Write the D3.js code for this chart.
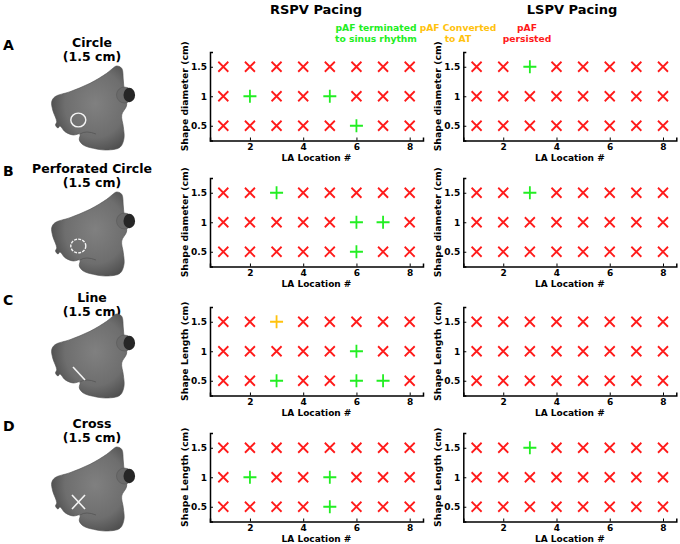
<!DOCTYPE html>
<html>
<head>
<meta charset="utf-8">
<script src="https://cdn.jsdelivr.net/npm/d3@7"></script>
<style>
  body { margin: 0; background: #fff; }
  text { font-family: "DejaVu Sans", sans-serif; font-weight: bold; }
</style>
</head>
<body>
<svg id="fig" width="680" height="544"></svg>
<script>
// ---- data ----
const shapes = ['Circle', 'Perforated Circle', 'Line', 'Cross'];
const panelLetters = ['A', 'B', 'C', 'D'];
const yLabels = ['Shape diameter (cm)', 'Shape diameter (cm)', 'Shape Length (cm)', 'Shape Length (cm)'];
const pacingSites = ['RSPV', 'LSPV'];
const locations = [1, 2, 3, 4, 5, 6, 7, 8];
const shapeSizes = [0.5, 1, 1.5];
const xTicks = [2, 4, 6, 8];
const yTicks = [0.5, 1, 1.5];

// [shape, pacing, location, size] — every other cell: pAF persisted
const terminated = [
  ['Circle', 'RSPV', 2, 1], ['Circle', 'RSPV', 5, 1], ['Circle', 'RSPV', 6, 0.5],
  ['Circle', 'LSPV', 3, 1.5],
  ['Perforated Circle', 'RSPV', 3, 1.5], ['Perforated Circle', 'RSPV', 6, 1],
  ['Perforated Circle', 'RSPV', 7, 1], ['Perforated Circle', 'RSPV', 6, 0.5],
  ['Perforated Circle', 'LSPV', 3, 1.5],
  ['Line', 'RSPV', 6, 1], ['Line', 'RSPV', 3, 0.5], ['Line', 'RSPV', 6, 0.5], ['Line', 'RSPV', 7, 0.5],
  ['Cross', 'RSPV', 2, 1], ['Cross', 'RSPV', 5, 1], ['Cross', 'RSPV', 5, 0.5],
  ['Cross', 'LSPV', 3, 1.5]
];
const convertedToAT = [['Line', 'RSPV', 3, 1.5]];

const RED = '#ff1a1a', GREEN = '#22ee22', ORANGE = '#ffc20e';

// ---- layout ----
const svg = d3.select('#fig');
const rowTops = [52, 178, 307, 433];
const axH = 88.5;
const panelLefts = [210, 463.3];
const axW = 213;

const x = d3.scaleLinear().domain([0.5, 8.5]).range([0, axW]);
const y = d3.scaleLinear().domain([0.25, 1.75]).range([axH, 0]);

function outcome(shape, site, loc, size) {
  const hit = a => a.some(d => d[0] === shape && d[1] === site && d[2] === loc && d[3] === size);
  if (hit(convertedToAT)) return 'at';
  if (hit(terminated)) return 'term';
  return 'pers';
}

// ---- column titles + legend ----
svg.append('text').attr('x', 316).attr('y', 14).attr('text-anchor', 'middle')
  .attr('font-size', 13).text('RSPV Pacing');
svg.append('text').attr('x', 572).attr('y', 14).attr('text-anchor', 'middle')
  .attr('font-size', 13).text('LSPV Pacing');

const legend = [
  { lines: ['pAF terminated', 'to sinus rhythm'], color: GREEN, x: 376 },
  { lines: ['pAF Converted', 'to AT'], color: ORANGE, x: 458 },
  { lines: ['pAF', 'persisted'], color: RED, x: 527 }
];
legend.forEach(l => {
  l.lines.forEach((s, i) => {
    svg.append('text').attr('x', l.x).attr('y', 30.5 + i * 11.5)
      .attr('text-anchor', 'middle').attr('font-size', 9.2)
      .attr('fill', l.color).text(s);
  });
});

// ---- atrium sketch ----
const defs = svg.append('defs');
const grad = defs.append('radialGradient').attr('id', 'laGrad')
  .attr('cx', '58%').attr('cy', '45%').attr('r', '62%');
grad.append('stop').attr('offset', '0%').attr('stop-color', '#808080');
grad.append('stop').attr('offset', '65%').attr('stop-color', '#6e6e6e');
grad.append('stop').attr('offset', '100%').attr('stop-color', '#4c4c4c');

const atriumPts = [
  [106.7, 43.3], [112, 39], [116.7, 36], [121.7, 38.3], [123.3, 50], [124, 58.3],
  [126.7, 75], [121.7, 85], [123.3, 96.7], [124, 108.3], [120, 117.3],
  [106.7, 120], [93.3, 118.3], [83.3, 115], [79.3, 110], [80, 104],
  [73.3, 105], [65, 101.7], [60, 96], [58, 98], [55.5, 95], [56.7, 91.7],
  [52.7, 80], [51.7, 71.7], [55, 66.7], [70, 61.7], [90, 53.3]
];
const atriumLine = d3.line().curve(d3.curveCatmullRomClosed.alpha(0.5));
const shapeDy = [30, 156, 278, 411];

shapes.forEach((shape, r) => {
  const top = rowTops[r];
  const dy = shapeDy[r];

  // panel letter + shape title
  svg.append('text').attr('x', 3).attr('y', top - 2).attr('font-size', 14).text(panelLetters[r]);
  svg.append('text').attr('x', 92).attr('y', top - 5).attr('text-anchor', 'middle')
    .attr('font-size', 12.5).text(shape);
  svg.append('text').attr('x', 92).attr('y', top + 9).attr('text-anchor', 'middle')
    .attr('font-size', 12.5).text('(1.5 cm)');

  const la = svg.append('g').attr('transform', `translate(0,${dy})`);
  la.append('path').attr('d', atriumLine(atriumPts))
    .attr('fill', 'url(#laGrad)').attr('stroke', '#505050').attr('stroke-width', 0.6);
  // fold near the bottom
  la.append('path').attr('d', 'M80,104 Q86,100 96,104')
    .attr('fill', 'none').attr('stroke', '#555').attr('stroke-width', 0.8);
  // pulmonary vein
  la.append('ellipse').attr('cx', 124.5).attr('cy', 65).attr('rx', 8).attr('ry', 8)
    .attr('fill', '#6a6a6a').attr('stroke', '#555').attr('stroke-width', 0.5);
  la.append('ellipse').attr('cx', 129.3).attr('cy', 65).attr('rx', 5.8).attr('ry', 7.2).attr('fill', '#262626');
  // ablation lesion
  if (shape === 'Circle' || shape === 'Perforated Circle') {
    la.append('ellipse').attr('cx', 78.3).attr('cy', 90).attr('rx', 7.5).attr('ry', 6.9)
      .attr('fill', 'none').attr('stroke', '#f4f4f4').attr('stroke-width', 1.4)
      .attr('stroke-dasharray', shape === 'Perforated Circle' ? '3,1.2' : null);
  } else if (shape === 'Line') {
    la.append('line').attr('x1', 73).attr('y1', 89).attr('x2', 85).attr('y2', 102)
      .attr('stroke', '#f4f4f4').attr('stroke-width', 1.6);
  } else {
    la.append('path').attr('d', 'M72,84L85,98M85,84L72,98')
      .attr('stroke', '#f4f4f4').attr('stroke-width', 1.6).attr('fill', 'none');
  }

  // scatter panels
  pacingSites.forEach((site, c) => {
    const g = svg.append('g').attr('transform', `translate(${panelLefts[c]},${top})`);

    const cells = [];
    shapeSizes.forEach(s => locations.forEach(l => cells.push({ loc: l, size: s, o: outcome(shape, site, l, s) })));

    g.selectAll('path.mk').data(cells).enter().append('path')
      .attr('class', 'mk')
      .attr('transform', d => `translate(${x(d.loc)},${y(d.size)})`)
      .attr('d', d => d.o === 'pers' ? 'M-5,-5L5,5M5,-5L-5,5' : 'M-6.5,0H6.5M0,-6.5V6.5')
      .attr('stroke', d => d.o === 'pers' ? RED : d.o === 'term' ? GREEN : ORANGE)
      .attr('stroke-width', 1.8).attr('fill', 'none');

    const xAxis = g.append('g').attr('transform', `translate(0,${axH})`)
      .call(d3.axisBottom(x).tickValues(xTicks).tickSize(-3).tickPadding(3).tickFormat(d3.format('d')));
    const yAxis = g.append('g')
      .call(d3.axisLeft(y).tickValues(yTicks).tickSize(-3).tickPadding(3).tickFormat(d => d));
    [xAxis, yAxis].forEach(a => {
      a.select('.domain').attr('stroke', '#000').attr('stroke-width', 1.5);
      a.selectAll('.tick line').attr('stroke', '#000');
      a.selectAll('.tick text').attr('font-size', 9).attr('font-weight', 'bold')
        .attr('font-family', '"DejaVu Sans", sans-serif').attr('fill', '#000');
    });

    g.append('text').attr('x', axW / 2).attr('y', axH + 20.5).attr('text-anchor', 'middle')
      .attr('font-size', 9).text('LA Location #');
    g.append('text').attr('transform', `translate(-22,${axH / 2}) rotate(-90)`)
      .attr('text-anchor', 'middle').attr('font-size', 9.3).text(yLabels[r]);
  });
});
</script>
</body>
</html>
